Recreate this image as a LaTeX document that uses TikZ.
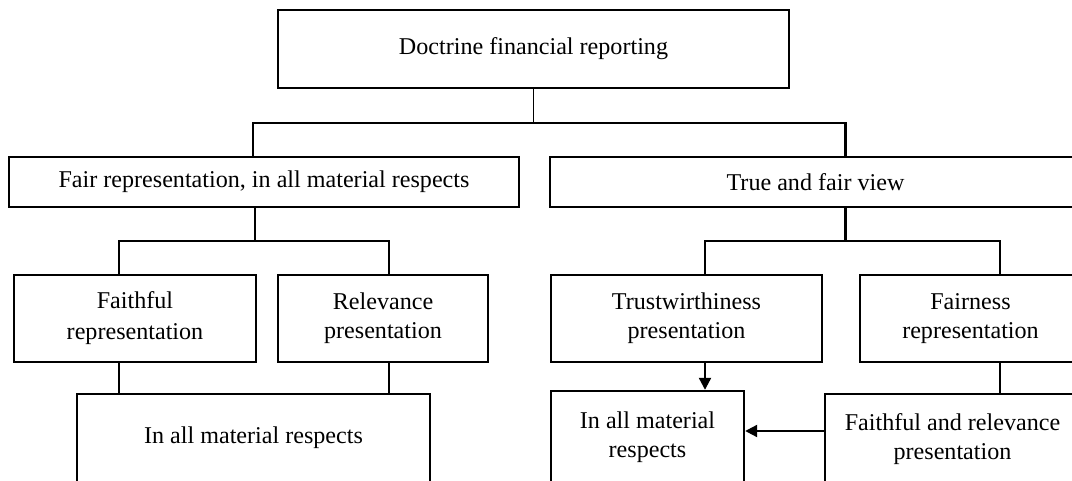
\documentclass[tikz,border=0pt]{standalone}
\usepackage{fontspec}
\setmainfont{Liberation Serif}
\usetikzlibrary{arrows.meta}
\begin{document}
\begin{tikzpicture}[x=1pt,y=-1pt,
  box/.style={draw=black,line width=2.4pt,rectangle,inner sep=0pt,align=center,
    font=\fontsize{24.1}{29}\selectfont},
  link/.style={draw=black,line width=1.5pt},
  heavylink/.style={draw=black,line width=2.2pt},
  arrowlink/.style={draw=black,line width=2.2pt,-{Triangle[length=12pt,width=12pt]}}]
\useasboundingbox (0,0) rectangle (1072,481);
\fill[white] (0,0) rectangle (1072,481);
\clip (0,0) rectangle (1072,481);

% top level
\node[box,minimum width=511pt,minimum height=78pt] (top) at (533.5,49) {Doctrine financial reporting};

% second level
\node[box,minimum width=510pt,minimum height=50pt] (fair) at (264,182) {Fair representation, in all material respects};
\node[box,minimum width=531pt,minimum height=50pt] (tfv) at (815.5,182) {True and fair view};

% third level
\node[box,minimum width=242pt,minimum height=87pt] (faith) at (135,318.5) {Faithful\\[2pt]representation};
\node[box,minimum width=210pt,minimum height=87pt] (relev) at (383,318.5) {Relevance\\presentation};
\node[box,minimum width=271pt,minimum height=87pt] (trust) at (686.5,318.5) {Trustwirthiness\\presentation};
\node[box,minimum width=221pt,minimum height=87pt] (fairness) at (970.5,318.5) {Fairness\\representation};

% bottom level
\node[box,minimum width=353pt,minimum height=88pt] (allL) at (253.5,438) {In all material respects};
\node[box,minimum width=193pt,minimum height=92pt] (allR) at (647.5,437) {In all material\\respects};
\node[box,minimum width=255pt,minimum height=90pt] (fr) at (952.5,439) {Faithful and relevance\\presentation};

% top bus
\draw[link] (top.south) -- ++(0,34) coordinate (j1);
\draw[link] ([xshift=-11pt]fair.north) |- (j1);
\draw[heavylink] (j1) -| ([xshift=30pt]tfv.north);

% left branch
\draw[link] ([xshift=-9pt]fair.south) -- ++(0,33) coordinate (j2);
\draw[link] ([xshift=-16pt]faith.north) |- (j2) -| ([xshift=6pt]relev.north);
\coordinate (f1) at ([xshift=-16pt]faith.south);
\coordinate (r1) at ([xshift=6pt]relev.south);
\draw[link] (f1) -- (f1 |- allL.north);
\draw[link] (r1) -- (r1 |- allL.north);

% right branch
\draw[heavylink] ([xshift=30pt]tfv.south) -- ++(0,33) coordinate (j3);
\draw[heavylink] ([xshift=18.5pt]trust.north) |- (j3) -| ([xshift=29.5pt]fairness.north);
\coordinate (t1) at ([xshift=18.5pt]trust.south);
\coordinate (q1) at ([xshift=29.5pt]fairness.south);
\draw[arrowlink] (t1) -- (t1 |- allR.north);
\draw[link] (q1) -- (q1 |- fr.north);
\coordinate (a1) at ([yshift=8pt]fr.west);
\draw[arrowlink] (a1) -- (a1 -| allR.east);
\end{tikzpicture}
\end{document}
